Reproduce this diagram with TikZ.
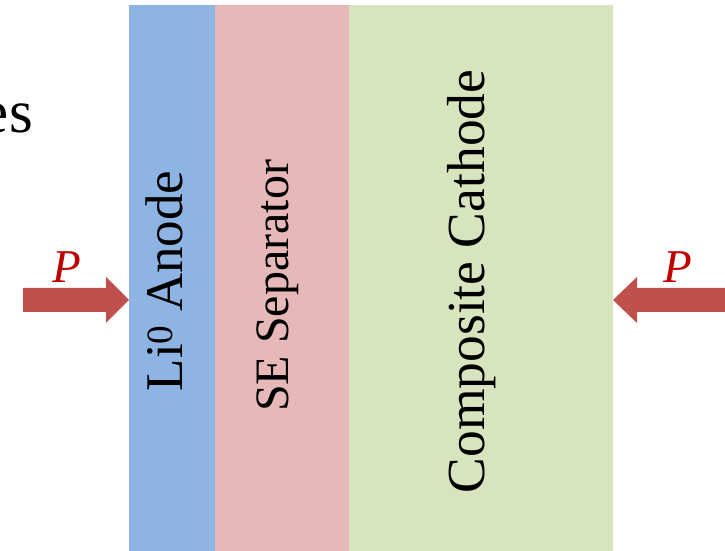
\documentclass[tikz,border=0pt]{standalone}
\usepackage{fontspec}
\setmainfont{Liberation Serif}
\definecolor{anodeblue}{HTML}{8EB4E3}
\definecolor{sepink}{HTML}{E6B9B8}
\definecolor{cathgreen}{HTML}{D7E4BD}
\definecolor{arrowred}{HTML}{C0504D}
\definecolor{pred}{HTML}{C00000}
\begin{document}
\begin{tikzpicture}[x=1pt,y=1pt,
  layer/.style={inner sep=0pt, outer sep=0pt},
  vlabel/.style={rotate=90, anchor=base, inner sep=0pt},
  plabel/.style={anchor=base, inner sep=0pt, text=pred, font=\fontsize{47}{50}\selectfont\itshape},
  pressure/.style={fill=arrowred, draw=none}]
\useasboundingbox (0,0) rectangle (725,551);
% layers
\fill[anodeblue] (129,0) rectangle (215,546);
\fill[sepink] (215,0) rectangle (349,546);
\fill[cathgreen] (349,0) rectangle (613,546);
\coordinate (anodeL) at (129,251);
\coordinate (cathR) at (613,251);
% labels
\node[vlabel, font=\fontsize{53}{56}\selectfont] (anode) at (182,270) {Li\textsuperscript{0} Anode};
\node[vlabel, font=\fontsize{48}{52}\selectfont] (sep) at (288,265) {SE Separator};
\node[vlabel, font=\fontsize{53.5}{57}\selectfont] (cath) at (484,269.5) {Composite Cathode};
\node[anchor=base east, inner sep=0pt, font=\fontsize{61}{64}\selectfont] (es) at (33,418) {es};
% pressure arrows
\path[pressure] (23,239) -- (106,239) -- (106,228) -- (anodeL) -- (106,274) -- (106,263) -- (23,263) -- cycle;
\path[pressure] (725,239) -- (637,239) -- (637,228) -- (cathR) -- (637,274) -- (637,263) -- (725,263) -- cycle;
\node[plabel] (pl) at (67,268) {P};
\node[plabel] (pr) at (678,268) {P};
\end{tikzpicture}
\end{document}
